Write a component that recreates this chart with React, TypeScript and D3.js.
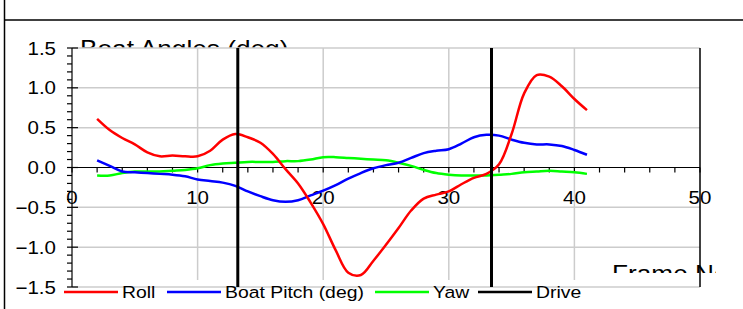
import React, { useEffect, useRef } from 'react';
import * as d3 from 'd3';

// frame numbers 2..41
const frames = d3.range(2, 42);

const roll = [0.61, 0.47, 0.37, 0.29, 0.19, 0.14, 0.15, 0.14, 0.14, 0.21,
  0.35, 0.42, 0.38, 0.31, 0.17, -0.02, -0.20, -0.44, -0.71, -1.04,
  -1.32, -1.35, -1.17, -0.97, -0.76, -0.54, -0.39, -0.34, -0.30, -0.21,
  -0.13, -0.08, 0.04, 0.42, 0.93, 1.16, 1.14, 1.02, 0.86, 0.72];

const pitch = [0.09, 0.02, -0.05, -0.06, -0.07, -0.08, -0.09, -0.11, -0.15, -0.17,
  -0.19, -0.23, -0.30, -0.36, -0.41, -0.43, -0.41, -0.35, -0.29, -0.22,
  -0.14, -0.07, -0.01, 0.03, 0.06, 0.12, 0.18, 0.21, 0.23, 0.30,
  0.38, 0.41, 0.40, 0.35, 0.31, 0.29, 0.29, 0.27, 0.22, 0.16];

const yaw = [-0.10, -0.10, -0.07, -0.05, -0.05, -0.05, -0.04, -0.03, -0.01, 0.03,
  0.05, 0.06, 0.07, 0.07, 0.07, 0.08, 0.08, 0.10, 0.13, 0.13,
  0.12, 0.11, 0.10, 0.09, 0.06, 0.02, -0.03, -0.07, -0.09, -0.10,
  -0.10, -0.10, -0.09, -0.08, -0.06, -0.05, -0.04, -0.05, -0.06, -0.08];

const driveFrames = [13.2, 33.4];

const xTicks = [0, 10, 20, 30, 40, 50];
const yTicks = [1.5, 1.0, 0.5, 0.0, -0.5, -1.0, -1.5];

const legendItems = ['Roll', 'Boat Pitch (deg)', 'Yaw', 'Drive'];

const App = () => {
  const chartRef = useRef(null);

  useEffect(() => {
    if (!chartRef.current) return;
    d3.select(chartRef.current).selectAll('*').remove();

    const W = 743, H = 309;
    const left = 72, right = 700, top = 48, bottom = 287;
    const font = 'Liberation Sans, Arial, sans-serif';
    const sx = 1.14;

    const svg = d3.select(chartRef.current)
      .append('svg')
      .attr('width', W)
      .attr('height', H)
      .style('position', 'absolute')
      .style('left', 0)
      .style('top', 0)
      .style('font-family', font);

    const defs = svg.append('defs');
    defs.append('clipPath').attr('id', 'clipTitle')
      .append('rect').attr('x', 0).attr('y', 0).attr('width', W).attr('height', top);
    defs.append('clipPath').attr('id', 'clipXTitle')
      .append('rect').attr('x', 0).attr('y', 0).attr('width', 716).attr('height', 273);

    const x = d3.scaleLinear().domain([0, 50]).range([left, right]);
    const y = d3.scaleLinear().domain([-1.5, 1.5]).range([bottom, top]);

    // outer frame
    svg.append('line').attr('x1', 4.5).attr('x2', 4.5).attr('y1', 0).attr('y2', H)
      .attr('stroke', '#000').attr('stroke-width', 1.5);
    svg.append('line').attr('x1', 4).attr('x2', W).attr('y1', 20).attr('y2', 20)
      .attr('stroke', '#000').attr('stroke-width', 1.5);

    const txt = (g, tx, ty, s, size, anchor = 'start') =>
      g.append('text')
        .attr('transform', `translate(${tx},${ty}) scale(${sx},1)`)
        .attr('text-anchor', anchor)
        .attr('font-size', size)
        .attr('fill', '#000')
        .text(s);

    // titles (clipped by the plot area)
    txt(svg.append('g').attr('clip-path', 'url(#clipTitle)'), 80, 56.5, 'Boat Angles (deg)', 23);
    txt(svg.append('g').attr('clip-path', 'url(#clipXTitle)'), 612, 281.5, 'Frame No.', 23);

    // grid
    const grid = svg.append('g').attr('stroke', '#cccccc').attr('stroke-width', 1.5);
    yTicks.filter(v => v !== 0).forEach(v => {
      grid.append('line').attr('x1', left).attr('x2', right).attr('y1', y(v)).attr('y2', y(v));
    });
    xTicks.filter(v => v !== 0 && v !== 50).forEach(v => {
      grid.append('line').attr('x1', x(v)).attr('x2', x(v)).attr('y1', top).attr('y2', 280);
    });

    // plot right border
    svg.append('line').attr('x1', right).attr('x2', right).attr('y1', top).attr('y2', bottom)
      .attr('stroke', '#000').attr('stroke-width', 1.5);

    // y axis
    const ax = svg.append('g').attr('stroke', '#000').attr('stroke-width', 1.2);
    ax.append('line').attr('x1', left).attr('x2', left).attr('y1', top).attr('y2', bottom);
    d3.range(-15, 16).forEach(i => {
      const yy = y(i / 10);
      const major = i % 5 === 0;
      ax.append('line').attr('x1', left - 5).attr('x2', major ? left + 6 : left)
        .attr('y1', yy).attr('y2', yy);
    });
    // x axis
    ax.append('line').attr('x1', left).attr('x2', right).attr('y1', y(0)).attr('y2', y(0));
    d3.range(0, 51, 2).forEach(v => {
      ax.append('line').attr('x1', x(v)).attr('x2', x(v)).attr('y1', y(0)).attr('y2', y(0) + 5);
    });

    const labels = svg.append('g');
    yTicks.forEach(v => txt(labels, 56, y(v) + 6.5, d3.format('.1f')(v), 18, 'end'));
    xTicks.forEach(v => txt(labels, x(v), y(0) + 36.5, String(v), 18, 'middle'));

    // series
    const series = [
      { values: roll, color: '#ff0000' },
      { values: pitch, color: '#0000ff' },
      { values: yaw, color: '#00ff00' },
    ];
    const line = d3.line()
      .x((d) => x(d[0]))
      .y((d) => y(d[1]))
      .curve(d3.curveCatmullRom.alpha(0.5));

    // draw in order: yaw, pitch, roll on top
    [series[2], series[1], series[0]].forEach(s => {
      svg.append('path')
        .datum(frames.map((f, i) => [f, s.values[i]]))
        .attr('fill', 'none')
        .attr('stroke', s.color)
        .attr('stroke-width', 2.5)
        .attr('d', line);
    });

    // legend background
    svg.append('rect').attr('x', 60).attr('y', 288).attr('width', 526).attr('height', 21)
      .attr('fill', '#fff');

    // drive markers
    driveFrames.forEach(f => {
      svg.append('line').attr('x1', x(f)).attr('x2', x(f)).attr('y1', top).attr('y2', bottom)
        .attr('stroke', '#000').attr('stroke-width', 3);
    });

    // legend
    const legendColors = ['#ff0000', '#0000ff', '#00ff00', '#000000'];
    const legendX = [64, 167, 375, 478];
    const lg = svg.append('g');
    legendItems.forEach((name, i) => {
      lg.append('line').attr('x1', legendX[i]).attr('x2', legendX[i] + 54)
        .attr('y1', 292).attr('y2', 292)
        .attr('stroke', legendColors[i]).attr('stroke-width', 2.5);
      txt(lg, legendX[i] + 58, 297.5, name, 17);
    });
  }, []);

  return <div ref={chartRef}></div>;
};

export default App;
